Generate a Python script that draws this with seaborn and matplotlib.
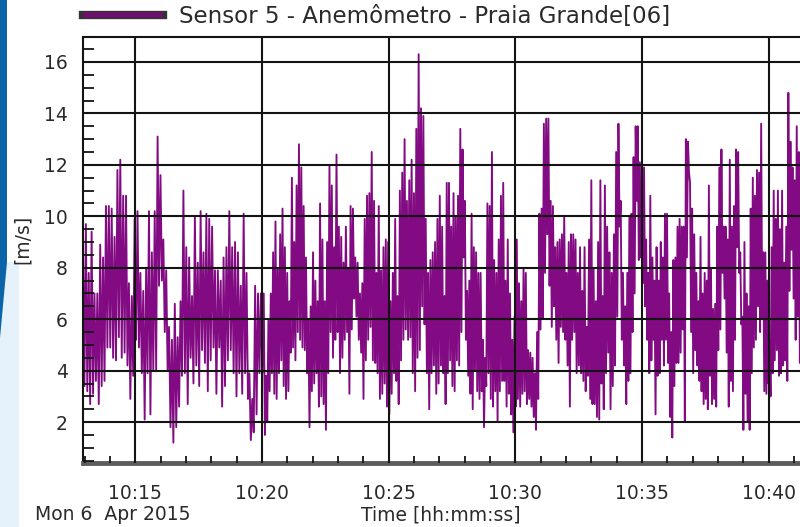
import numpy as np
import pandas as pd
import matplotlib
matplotlib.use("Agg")
import matplotlib.pyplot as plt
import matplotlib.dates as mdates
import matplotlib.patheffects as pe
from matplotlib.patches import Polygon
from matplotlib.ticker import MultipleLocator
import seaborn as sns

# ---------------- data ----------------
SERIES_NAME = "Sensor 5 - Anemômetro - Praia Grande[06]"
DATE_LABEL = "Mon 6  Apr 2015"
Y_LABEL = "[m/s]"
X_LABEL = "Time [hh:mm:ss]"

# time spans covered by each block of readings
segment_bounds = ["2015-04-06 10:12:56", "2015-04-06 10:20:04",
                  "2015-04-06 10:27:12", "2015-04-06 10:34:20",
                  "2015-04-06 10:41:21"]

# local maxima / minima of wind speed [m/s], in time order
peaks_a = [8.7, 9.7, 7.8, 9.4, 7.0, 7.0, 8.9, 8.4, 10.4, 10.4, 10.3, 9.2, 11.8, 12.2,
           10.8, 10.8, 7.4, 6.9, 9.9, 10.2, 7.8, 7.1, 8.0, 10.2, 8.6, 10.2, 13.1, 11.6,
           9.1, 7.9, 5.7, 5.2, 6.6, 5.3, 6.7, 11.0, 8.8, 8.4, 6.9, 10.0, 8.2, 10.2, 8.6,
           10.1, 9.9, 9.6, 7.9, 7.9, 7.5, 8.4, 8.8, 10.2, 8.8, 9.0, 8.6, 7.3, 10.1, 7.8,
           3.9, 2.9, 7.3, 7.0, 7.0]
troughs_a = [3.4, 3.2, 2.7, 3.1, 3.6, 2.7, 3.4, 3.6, 4.9, 4.9, 4.5, 4.4, 5.3, 4.5,
             4.7, 4.2, 2.9, 3.8, 5.2, 4.9, 3.9, 2.1, 3.9, 2.3, 4.0, 4.0, 7.3, 7.5,
             5.5, 4.0, 1.8, 1.2, 1.8, 2.6, 3.8, 3.9, 2.7, 4.5, 3.5, 4.2, 3.4, 4.8, 4.3,
             3.2, 4.4, 4.9, 3.1, 4.9, 2.6, 3.4, 4.4, 4.8, 3.9, 3.0, 3.9, 3.1, 3.9, 2.9,
             1.3, 1.6, 2.3, 3.9, 3.9]

peaks_b = [7.0, 3.8, 6.0, 7.0, 8.6, 9.8, 8.0, 9.3, 10.3, 8.8, 7.8, 6.7, 11.5, 9.0,
           11.2, 12.8, 11.9, 10.4, 8.4, 6.0, 6.5, 8.6, 7.5, 6.7, 10.5, 9.1, 6.7, 9.0,
           12.0, 11.2, 8.8, 12.4, 9.6, 9.2, 8.2, 9.6, 8.0, 10.4, 10.3, 8.4, 8.2, 7.0,
           7.4, 9.9, 10.8, 10.9, 12.5, 10.6, 7.8, 10.4, 7.9, 8.8, 9.1, 9.0, 6.7, 7.8,
           9.9, 6.9, 11.0, 11.7, 13.0, 10.6, 11.4, 12.2, 10.9, 13.4, 16.3, 14.2, 13.9,
           9.9, 7.8, 8.3, 8.6, 9.0, 9.9, 10.8, 9.6]
troughs_b = [1.5, 2.0, 3.2, 3.9, 3.1, 2.9, 3.9, 4.4, 3.4, 2.9, 3.2, 4.7, 4.9, 4.4,
             5.5, 5.2, 4.9, 4.8, 3.9, 1.8, 3.2, 3.5, 3.9, 2.6, 3.0, 2.7, 1.7, 3.9,
             5.5, 4.5, 5.2, 5.5, 3.9, 4.5, 5.2, 5.5, 3.1, 5.6, 6.8, 6.1, 5.2, 4.7,
             2.9, 4.4, 5.2, 5.7, 4.4, 4.3, 3.9, 2.9, 3.1, 3.5, 2.6, 2.3, 3.1, 3.9,
             3.6, 2.7, 4.4, 5.2, 5.6, 5.2, 5.3, 3.9, 3.2, 4.5, 4.8, 6.5, 5.8,
             3.9, 2.5, 3.9, 4.2, 3.1, 3.5, 4.2, 3.9]

peaks_c = [6.9, 11.3, 11.3, 9.6, 10.9, 10.0, 10.8, 13.4, 12.6, 10.6, 7.1, 7.5, 10.1,
           8.8, 8.6, 7.8, 7.8, 5.2, 4.5, 10.5, 10.4, 12.5, 8.3, 7.8, 9.1, 10.8, 11.3,
           7.5, 9.1, 7.0, 5.2, 6.1, 9.1, 7.4, 6.7, 8.0, 7.8, 4.8, 4.7, 4.5, 3.9, 5.5,
           10.1, 10.3, 13.6, 13.8, 13.8, 10.6, 10.4, 8.8, 9.0, 9.1, 9.3, 10.0, 7.8, 9.0,
           9.3, 9.3, 9.1, 7.8, 8.8, 7.1, 8.8, 5.7, 9.1, 11.4, 8.0, 6.7, 9.0, 11.4, 6.9,
           11.2, 9.6, 8.6, 7.8, 9.3, 12.5, 13.6, 10.6, 7.8]
troughs_c = [2.7, 3.9, 4.4, 3.4, 3.2, 4.4, 4.2, 5.5, 8.4, 5.2, 3.8, 3.1, 2.5,
             4.0, 3.2, 2.9, 3.2, 1.8, 3.4, 3.9, 2.9, 2.6, 3.2, 2.0, 3.2, 3.6, 3.6,
             2.6, 3.1, 2.3, 1.6, 2.6, 2.9, 2.6, 3.1, 3.2, 2.7, 2.9, 2.6, 2.2, 1.7, 2.9,
             5.6, 6.0, 7.8, 9.3, 7.3, 5.7, 6.5, 5.2, 4.3, 5.7, 5.5, 5.2, 4.2, 2.6,
             5.2, 5.5, 3.9, 4.2, 3.9, 3.6, 3.2, 3.8, 2.9, 2.7, 2.7, 2.2, 2.1, 3.5, 2.5,
             3.9, 4.7, 2.5, 3.4, 4.2, 6.1, 9.6, 5.2, 4.2]

peaks_d = [6.5, 7.8, 10.0, 10.1, 12.3, 13.5, 13.5, 12.1, 11.3, 11.9, 9.1, 7.8, 10.8,
           8.4, 7.5, 8.8, 7.5, 9.0, 8.4, 10.1, 10.1, 7.0, 5.5, 8.3, 8.4, 9.6, 9.9, 9.6,
           9.6, 13.0, 12.9, 11.3, 10.3, 9.3, 7.8, 6.7, 9.2, 7.0, 7.8, 7.5, 11.2, 8.0,
           6.4, 6.6, 9.6, 11.9, 12.6, 9.6, 9.6, 9.1, 12.2, 9.6, 10.4, 12.6, 12.5, 8.6,
           6.1, 9.0, 7.0, 6.5, 10.3, 11.5, 10.8, 11.8, 11.7, 13.6, 8.6, 8.6, 7.5, 5.2,
           8.8, 11.0, 9.9, 11.0, 9.5, 11.0, 8.2, 9.6, 14.8, 12.9, 11.9, 11.4, 13.5,
           12.5, 10.3]
troughs_d = [2.7, 3.6, 3.9, 5.5, 7.0, 10.6, 8.3, 8.4, 7.4, 6.5, 5.2, 3.9, 4.4,
             5.2, 2.3, 3.8, 3.9, 5.2, 4.2, 5.2, 4.3, 2.2, 1.4, 3.4, 4.3, 4.3, 4.7, 5.6,
             2.0, 8.4, 11.7, 5.5, 3.9, 4.8, 4.2, 3.6, 3.2, 2.7, 2.9, 2.5, 3.8, 2.7,
             2.9, 2.6, 4.8, 5.6, 7.8, 6.8, 4.7, 2.6, 3.6, 3.2, 5.2, 8.8, 7.8, 5.8,
             1.7, 3.1, 2.0, 1.7, 3.9, 4.9, 5.2, 6.5, 5.5, 6.0, 3.2, 3.1, 3.5, 3.0,
             3.9, 4.4, 4.8, 3.8, 3.9, 4.2, 4.4, 3.6, 7.1, 8.7, 6.8, 5.2, 6.1,
             4.3, 6.8]

y_ticks = [2, 4, 6, 8, 10, 12, 14, 16]

# ---------------- assemble long table ----------------
blocks = [(peaks_a, troughs_a), (peaks_b, troughs_b),
          (peaks_c, troughs_c), (peaks_d, troughs_d)]
bounds = pd.to_datetime(segment_bounds)
frames = []
for (pk, tr), t0, t1 in zip(blocks, bounds[:-1], bounds[1:]):
    n = len(pk)
    ts = pd.date_range(t0, t1, periods=2 * n + 1)[:-1]
    v = np.empty(2 * n)
    v[0::2] = pk
    v[1::2] = tr
    frames.append(pd.DataFrame({"time": ts, "speed": v}))
df = pd.concat(frames, ignore_index=True)

# ---------------- styling ----------------
sns.set_theme(style="white")
plt.rcParams["font.family"] = ["DejaVu Sans"]
TXT = "#2a2a2a"
PURPLE = "#820a82"

fig = plt.figure(figsize=(8.0, 5.27), dpi=100)
W, H = 800, 527
ax = fig.add_axes([83 / W, 64 / H, 720 / W, 426 / H])

sns.lineplot(data=df, x="time", y="speed", ax=ax, color=PURPLE, linewidth=1.35,
             estimator=None, sort=False, label=SERIES_NAME, zorder=1)

ax.set_xlim(bounds[0], bounds[-1])
ax.set_ylim(0.41, 16.97)
ax.set_yticks(y_ticks)
ax.yaxis.set_minor_locator(MultipleLocator(0.5))
ax.xaxis.set_major_locator(mdates.MinuteLocator(byminute=range(0, 60, 5)))
ax.xaxis.set_major_formatter(mdates.DateFormatter("%H:%M"))
ax.xaxis.set_minor_locator(mdates.MinuteLocator())

ax.set_axisbelow(False)
ax.grid(True, which="major", color="#141414", linewidth=1.5)
ax.grid(False, which="minor")

ax.tick_params(axis="both", which="major", direction="out", width=1.3,
               color="#141414", labelsize=13.5, labelcolor=TXT)
ax.tick_params(axis="y", which="major", length=8, pad=3)
ax.tick_params(axis="x", which="major", length=9, pad=6)
ax.tick_params(axis="y", which="minor", direction="in", length=8, width=1.3,
               color="#141414", left=True)
ax.tick_params(axis="x", which="minor", direction="in", length=5, width=1.3,
               color="#141414", bottom=True)

ax.set_xlabel("")
ax.set_ylabel("")
for s in ("top", "left"):
    ax.spines[s].set_color("#141414")
    ax.spines[s].set_linewidth(1.5)
ax.spines["bottom"].set_color("#5c5c5c")
ax.spines["bottom"].set_linewidth(3.5)
ax.spines["right"].set_visible(False)

# legend at top
leg = ax.legend(loc="center left", bbox_to_anchor=(83 / W, 1 - 17 / H),
                bbox_transform=fig.transFigure, frameon=False, borderpad=0,
                borderaxespad=0, handlelength=3.5, handletextpad=0.7,
                fontsize=16.5, labelcolor=TXT)
hl = leg.get_lines()[0]
hl.set_linewidth(4.0)
hl.set_color("#6e0f6e")
hl.set_solid_capstyle("butt")
hl.set_path_effects([pe.Stroke(linewidth=6.0, foreground="#333333",
                               capstyle="projecting"), pe.Normal()])

# axis texts
fig.text(22 / W, 1 - 239 / H, Y_LABEL, rotation=90, ha="center", va="center",
         fontsize=13.5, color=TXT)
fig.text(441 / W, 1 - 515 / H, X_LABEL, ha="center", va="center",
         fontsize=13.5, color=TXT)
fig.text(35 / W, 1 - 515 / H, DATE_LABEL, ha="left", va="center",
         fontsize=13.5, color=TXT)

# blue decoration at the left edge
pale = Polygon([(0, 0), (19 / W, 0), (19 / W, 1 - 262 / H), (0, 1 - 262 / H)],
               closed=True, transform=fig.transFigure, facecolor="#e6f2fb",
               edgecolor="none", zorder=-2)
dark = Polygon([(0, 1), (7 / W, 1), (7 / W, 1 - 262 / H), (0, 1 - 338 / H)],
               closed=True, transform=fig.transFigure, facecolor="#0b63a8",
               edgecolor="none", zorder=-1)
fig.add_artist(pale)
fig.add_artist(dark)

fig.savefig("out.png", dpi=100)
